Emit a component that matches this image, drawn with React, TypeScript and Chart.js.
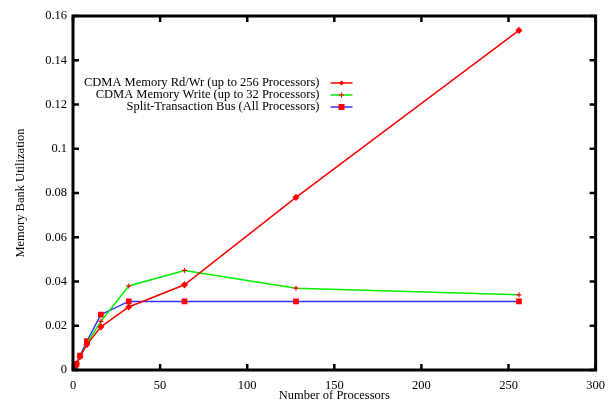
import React, { useEffect, useRef } from "react";
import { Chart, registerables } from "chart.js";
Chart.register(...registerables);

const processors = [1, 2, 4, 8, 16, 32, 64, 128, 256];
const rdwr = [0.0012, 0.0028, 0.006, 0.0115, 0.0195, 0.0285, 0.0385, 0.078, 0.1535];
const writeOnly = [0.001, 0.0028, 0.006, 0.012, 0.022, 0.038, 0.045, 0.037, 0.034];
const splitBus = [0.0008, 0.0028, 0.0065, 0.013, 0.025, 0.031, 0.031, 0.031, 0.031];
const seriesLabels = [
  "CDMA Memory Rd/Wr (up to 256 Processors)",
  "CDMA Memory Write (up to 32 Processors)",
  "Split-Transaction Bus (All Processors)",
];
const xTicks = [0, 50, 100, 150, 200, 250, 300];
const yTicks = [0, 0.02, 0.04, 0.06, 0.08, 0.1, 0.12, 0.14, 0.16];

const FONT = "'Liberation Serif', 'DejaVu Serif', serif";
const FS = 12.5;

const framePlugin = {
  id: "frame",
  afterDatasetsDraw(chart: any) {
    const { ctx, chartArea: a, scales } = chart;
    const xs = scales.x, ys = scales.y;
    ctx.save();
    ctx.strokeStyle = "#000";
    ctx.lineWidth = 3;
    ctx.strokeRect(a.left, a.top, a.right - a.left, a.bottom - a.top);
    ctx.lineWidth = 2.5;
    const tl = 6;
    ctx.beginPath();
    xTicks.forEach((v) => {
      const px = xs.getPixelForValue(v);
      ctx.moveTo(px, a.bottom); ctx.lineTo(px, a.bottom - tl);
      ctx.moveTo(px, a.top); ctx.lineTo(px, a.top + tl);
    });
    yTicks.forEach((v) => {
      const py = ys.getPixelForValue(v);
      ctx.moveTo(a.left, py); ctx.lineTo(a.left + tl, py);
      ctx.moveTo(a.right, py); ctx.lineTo(a.right - tl, py);
    });
    ctx.stroke();
    // legend
    ctx.font = FS + "px " + FONT;
    ctx.textAlign = "right";
    ctx.textBaseline = "middle";
    const textRight = xs.getPixelForValue(141.5);
    const sx0 = textRight + 11, sx1 = sx0 + 22;
    chart.data.datasets.forEach((ds: any, i: number) => {
      const y = 83 + i * 12;
      ctx.fillStyle = "#000";
      ctx.fillText(ds.label, textRight, y);
      ctx.strokeStyle = ds.borderColor;
      ctx.lineWidth = 1.5;
      ctx.beginPath(); ctx.moveTo(sx0, y); ctx.lineTo(sx1, y); ctx.stroke();
      const mx = (sx0 + sx1) / 2;
      ctx.fillStyle = "#ff0000";
      ctx.strokeStyle = "#ff0000";
      if (ds.pointStyle === "rect") ctx.fillRect(mx - 3, y - 3, 6, 6);
      else if (ds.pointStyle === "rectRot") {
        ctx.beginPath(); ctx.moveTo(mx, y - 2.5); ctx.lineTo(mx + 2.5, y); ctx.lineTo(mx, y + 2.5); ctx.lineTo(mx - 2.5, y); ctx.closePath(); ctx.fill();
      } else {
        ctx.lineWidth = 1.2;
        ctx.beginPath(); ctx.moveTo(mx - 2.5, y); ctx.lineTo(mx + 2.5, y); ctx.moveTo(mx, y - 2.5); ctx.lineTo(mx, y + 2.5); ctx.stroke();
      }
    });
    ctx.restore();
  },
};

export default function App() {
  const ref = useRef<HTMLCanvasElement>(null);
  useEffect(() => {
    const mk = (vals: number[]) => processors.map((x, i) => ({ x, y: vals[i] }));
    const chart = new Chart(ref.current!, {
      type: "line",
      data: {
        datasets: [
          { label: seriesLabels[0], data: mk(rdwr), borderColor: "#ff0000", backgroundColor: "#ff0000", pointBackgroundColor: "#ff0000", pointBorderColor: "#ff0000", borderWidth: 1.5, pointStyle: "rectRot", pointRadius: 2.5, tension: 0 },
          { label: seriesLabels[1], data: mk(writeOnly), borderColor: "#00ee00", backgroundColor: "#00ee00", pointBackgroundColor: "#ff0000", pointBorderColor: "#ff0000", pointBorderWidth: 1.2, borderWidth: 1.5, pointStyle: "cross", pointRadius: 2.5, tension: 0 },
          { label: seriesLabels[2], data: mk(splitBus), borderColor: "#3333ff", backgroundColor: "#3333ff", pointBackgroundColor: "#ff0000", pointBorderColor: "#ff0000", borderWidth: 1.5, pointStyle: "rect", pointRadius: 3, tension: 0 },
        ],
      },
      options: {
        animation: false,
        responsive: false,
        layout: { padding: { left: 0, right: 16, top: 16, bottom: 0 } },
        plugins: { legend: { display: false }, tooltip: { enabled: false } },
        scales: {
          x: {
            type: "linear", min: 0, max: 300,
            afterBuildTicks: (s: any) => { s.ticks = xTicks.map((v) => ({ value: v })); },
            afterFit: (s: any) => { s.height = 30; },
            grid: { display: false, drawTicks: false },
            border: { display: false },
            ticks: { color: "#000", font: { family: FONT, size: FS }, padding: 8, maxRotation: 0 },
            title: { display: true, text: "Number of Processors", color: "#000", font: { family: FONT, size: FS }, padding: { top: 0, bottom: -3 } },
          },
          y: {
            type: "linear", min: 0, max: 0.16,
            afterBuildTicks: (s: any) => { s.ticks = yTicks.map((v) => ({ value: v })); },
            afterFit: (s: any) => { s.width = 73; },
            grid: { display: false, drawTicks: false },
            border: { display: false },
            ticks: { color: "#000", font: { family: FONT, size: FS }, padding: 6, callback: (v: any) => String(Number(v)) },
            title: { display: true, text: "Memory Bank Utilization", color: "#000", font: { family: FONT, size: FS }, padding: { top: 13, bottom: 0 } },
          },
        },
      },
      plugins: [framePlugin],
    });
    return () => chart.destroy();
  }, []);
  return (
    <div style={{ position: "fixed", left: 0, top: 0, width: 613, height: 400, background: "#fff" }}>
      <canvas ref={ref} width={613} height={400} style={{ width: 613, height: 400 }} />
    </div>
  );
}
